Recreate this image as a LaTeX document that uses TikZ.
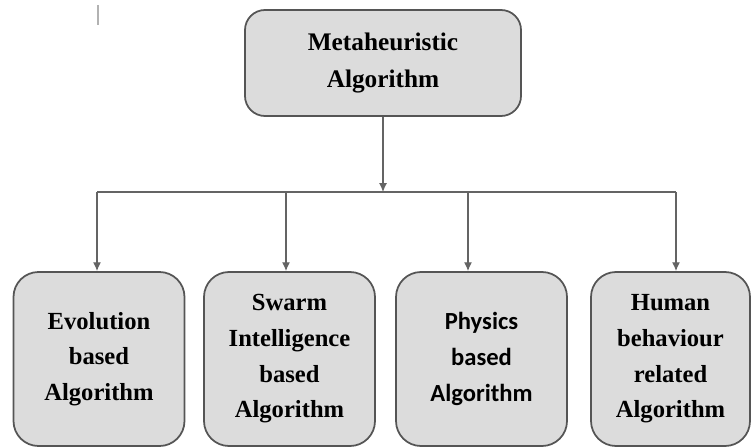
\documentclass[tikz,border=0pt]{standalone}
\usepackage{fontspec}
\setmainfont{Liberation Serif}[BoldFont={Liberation Serif Bold}]
\newfontfamily\calibri{Carlito}[BoldFont={Carlito Bold}]
\usetikzlibrary{positioning,arrows.meta}
\definecolor{boxfill}{RGB}{220,220,220}
\definecolor{boxline}{RGB}{85,85,85}
\definecolor{wirecol}{RGB}{100,100,100}
\tikzset{
    root/.style = {
        draw=boxline,
        fill=boxfill,
        shape=rectangle,
        rounded corners=0.4cm,
        minimum width=5.52cm,
        minimum height=2.12cm,
        line width=1pt,
        align=center,
        text=black,
        font=\rmfamily\bfseries\fontsize{14.4}{20.5}\selectfont
    },
    leaf/.style = {
        draw=boxline,
        fill=boxfill,
        shape=rectangle,
        rounded corners=0.5cm,
        minimum width=3.42cm,
        minimum height=3.48cm,
        line width=1pt,
        align=center,
        text=black,
        font=\rmfamily\bfseries\fontsize{14}{20.3}\selectfont
    },
    wire/.style = {
        draw=wirecol,
        line width=0.7pt
    },
    >={Latex[length=5pt,width=4.5pt]},
}
\begin{document}
\begin{tikzpicture}
            \useasboundingbox (0,0) rectangle (15.02,8.94);
            \draw[line width=1pt, black!30] (1.96,8.84) -- (1.96,8.44);

            \node[root] (meta) at (7.66,7.68) {Metaheuristic\\Algorithm};
            \node[leaf] (evo) at (1.98,1.76) {Evolution\\based\\Algorithm};
            \node[leaf] (swarm) at (5.79,1.76) {Swarm\\Intelligence\\based\\Algorithm};
            \node[leaf, font={\calibri\bfseries\fontsize{14}{20.3}\selectfont}] (phys) at (9.63,1.76) {Physics\\based\\Algorithm};
            \node[leaf, minimum width=3.18cm] (human) at (13.41,1.76) {Human\\behaviour\\related\\Algorithm};

            % branch points on the bar
            \coordinate (j1) at (1.94,5.10);
            \coordinate (j2) at (5.72,5.10);
            \coordinate (j3) at (9.36,5.10);
            \coordinate (j4) at (13.52,5.10);

            \path[wire, ->] (meta.south) -- (meta.south |- j1);
            \path[wire] (j1) -- (j4);
            \foreach \j/\n in {j1/evo, j2/swarm, j3/phys, j4/human}
                \path[wire, ->] (\j) -- (\j |- \n.north);
        \end{tikzpicture}
\end{document}
